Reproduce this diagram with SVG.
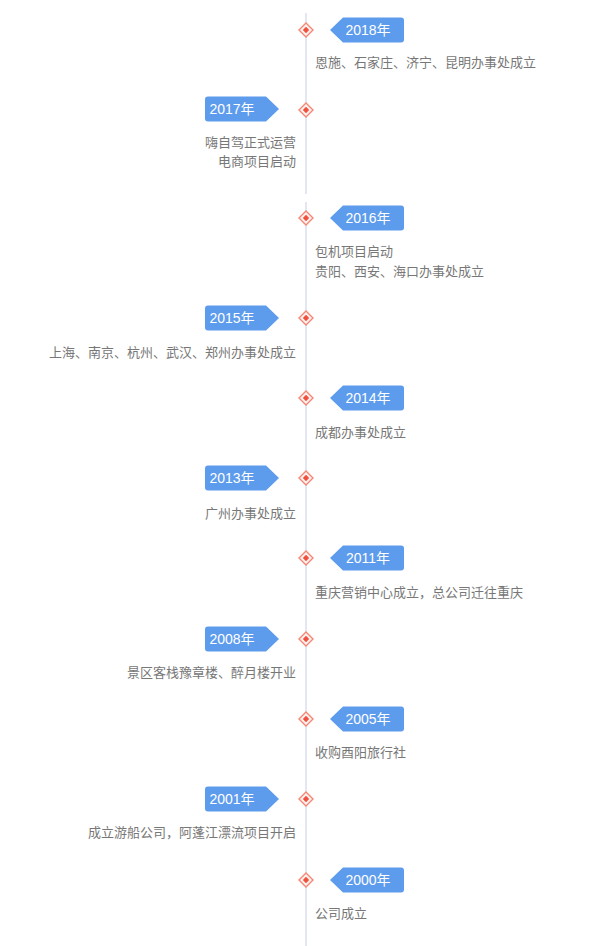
<svg xmlns="http://www.w3.org/2000/svg" width="600" height="946" viewBox="0 0 600 946">
<style>
.bg{fill:#ffffff}
.axis{stroke:#e4e6f2;stroke-width:2;fill:none}
.badge{fill:#5d9bec}
.yr{font-family:"Liberation Sans","Noto Sans CJK SC",sans-serif;font-size:14px;fill:#ffffff;text-anchor:middle}
.desc{font-family:"Noto Sans CJK SC",sans-serif;font-size:13px;fill:#777777}
.r{text-anchor:end}
.dotO{fill:#fff1ee;stroke:#f58776;stroke-width:1.4}
.dotI{fill:#f0513e}
</style>
<defs>
<g id="dot"><path class="dotO" d="M0,-7 L7,0 L0,7 L-7,0 Z"/><path class="dotI" d="M0,-3.2 L3.2,0 L0,3.2 L-3.2,0 Z"/></g>
<path id="bR" class="badge" d="M330,0 L343,-12.5 L401,-12.5 Q404,-12.5 404,-9.5 L404,9.5 Q404,12.5 401,12.5 L343,12.5 Z"/>
<path id="bL" class="badge" d="M279,0 L266,-12.5 L208,-12.5 Q205,-12.5 205,-9.5 L205,9.5 Q205,12.5 208,12.5 L266,12.5 Z"/>
</defs>
<rect class="bg" x="0" y="0" width="600" height="946"/>
<g id="connectors">
<line class="axis" x1="306" y1="13" x2="306" y2="194"/>
<line class="axis" x1="306" y1="202" x2="306" y2="946"/>
</g>
<g id="y2018" transform="translate(0,30)"><use href="#bR"/><text class="yr" x="368" y="5">2018年</text><use href="#dot" x="306"/><text class="desc" x="315" y="37">恩施、石家庄、济宁、昆明办事处成立</text></g>
<g id="y2017" transform="translate(0,109)"><use href="#bL"/><text class="yr" x="232" y="5">2017年</text><use href="#dot" x="306" y="1"/><text class="desc r" x="296" y="38">嗨自驾正式运营</text><text class="desc r" x="296" y="57">电商项目启动</text></g>
<g id="y2016" transform="translate(0,218)"><use href="#bR"/><text class="yr" x="368" y="5">2016年</text><use href="#dot" x="306"/><text class="desc" x="315" y="38">包机项目启动</text><text class="desc" x="315" y="58">贵阳、西安、海口办事处成立</text></g>
<g id="y2015" transform="translate(0,318)"><use href="#bL"/><text class="yr" x="232" y="5">2015年</text><use href="#dot" x="306"/><text class="desc r" x="296" y="39">上海、南京、杭州、武汉、郑州办事处成立</text></g>
<g id="y2014" transform="translate(0,398)"><use href="#bR"/><text class="yr" x="368" y="5">2014年</text><use href="#dot" x="306"/><text class="desc" x="315" y="39">成都办事处成立</text></g>
<g id="y2013" transform="translate(0,478)"><use href="#bL"/><text class="yr" x="232" y="5">2013年</text><use href="#dot" x="306"/><text class="desc r" x="296" y="40">广州办事处成立</text></g>
<g id="y2011" transform="translate(0,558)"><use href="#bR"/><text class="yr" x="368" y="5">2011年</text><use href="#dot" x="306"/><text class="desc" x="315" y="39">重庆营销中心成立，总公司迁往重庆</text></g>
<g id="y2008" transform="translate(0,639)"><use href="#bL"/><text class="yr" x="232" y="5">2008年</text><use href="#dot" x="306"/><text class="desc r" x="296" y="38">景区客栈豫章楼、醉月楼开业</text></g>
<g id="y2005" transform="translate(0,719)"><use href="#bR"/><text class="yr" x="368" y="5">2005年</text><use href="#dot" x="306"/><text class="desc" x="315" y="38">收购酉阳旅行社</text></g>
<g id="y2001" transform="translate(0,799)"><use href="#bL"/><text class="yr" x="232" y="5">2001年</text><use href="#dot" x="306"/><text class="desc r" x="296" y="38">成立游船公司，阿蓬江漂流项目开启</text></g>
<g id="y2000" transform="translate(0,880)"><use href="#bR"/><text class="yr" x="368" y="5">2000年</text><use href="#dot" x="306"/><text class="desc" x="315" y="38">公司成立</text></g>
</svg>
